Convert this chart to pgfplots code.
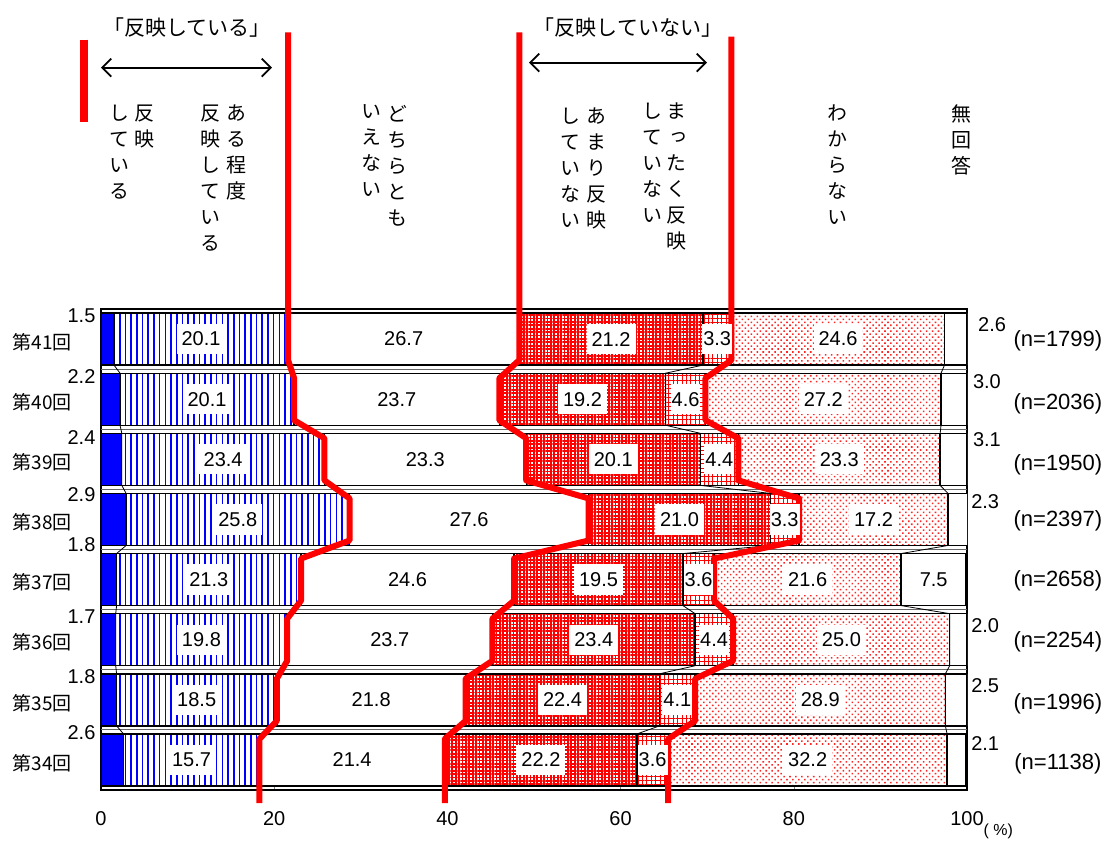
\documentclass[border=0pt]{standalone}
\usepackage{fontspec}
\setmainfont{Liberation Sans}
\newfontfamily\cjk{Noto Sans CJK JP}
\newfontfamily\cjkv[RawFeature=+vert]{Noto Sans CJK JP}
\usepackage{pgfplots}
\pgfplotsset{compat=1.18}
\usepackage{pgfplotstable}
\usetikzlibrary{patterns.meta,arrows.meta}

% shares per survey round (y=1 is 34th, y=8 is 41st)
\pgfplotstableread{
y s1 s2 s3 s4 s5 s6 s7
1 2.6 15.7 21.4 22.2 3.6 32.2 2.1
2 1.8 18.5 21.8 22.4 4.1 28.9 2.5
3 1.7 19.8 23.7 23.4 4.4 25.0 2.0
4 1.8 21.3 24.6 19.5 3.6 21.6 7.5
5 2.9 25.8 27.6 21.0 3.3 17.2 2.3
6 2.4 23.4 23.3 20.1 4.4 23.3 3.1
7 2.2 20.1 23.7 19.2 4.6 27.2 3.0
8 1.5 20.1 26.7 21.2 3.3 24.6 2.6
}\shares

% labels in the middle of the segments
\pgfplotstableread{
x y lab
11.55 8 20.1
34.95 8 26.7
58.9 8 21.2
85.1 8 24.6
12.25 7 20.1
34.15 7 23.7
55.6 7 19.2
83.4 7 27.2
14.1 6 23.4
37.45 6 23.3
59.15 6 20.1
85.25 6 23.3
15.8 5 25.8
42.5 5 27.6
66.8 5 21.0
89.2 5 17.2
12.45 4 21.3
35.4 4 24.6
57.45 4 19.5
81.6 4 21.6
11.6 3 19.8
33.35 3 23.7
56.9 3 23.4
85.5 3 25.0
11.05 2 18.5
31.2 2 21.8
53.3 2 22.4
83.05 2 28.9
10.45 1 15.7
29.0 1 21.4
50.8 1 22.2
81.6 1 32.2
}\midlabels

\pgfplotstableread{
x y lab
71.15 8 3.3
67.5 7 4.6
71.4 6 4.4
78.95 5 3.3
69.0 4 3.6
70.8 3 4.4
66.55 2 4.1
63.7 1 3.6
}\smalllabels

\pgfplotstableread{
x y lab
-0.6 8.388 1.5
-0.6 7.373 2.2
-0.6 6.358 2.4
-0.6 5.409 2.9
-0.6 4.577 1.8
-0.6 3.379 1.7
-0.6 2.381 1.8
-0.6 1.449 2.6
}\leftlabels

\pgfplotstableread{
x y lab
102.9 8.238 2.6
102.3 7.290 3.0
102.3 6.324 3.1
102.1 5.293 2.3
96.15 4 7.5
102.1 3.230 2.0
102.1 2.231 2.5
102.1 1.266 2.1
}\rightlabels

\pgfplotstableread{
x y lab
110.5 7.972 (n=1799)
110.5 6.923 (n=2036)
110.5 5.908 (n=1950)
110.5 4.977 (n=2397)
110.5 3.978 (n=2658)
110.5 2.963 (n=2254)
110.5 1.932 (n=1996)
110.5 0.933 (n=1138)
}\nlabels

\pgfplotsset{
  lbl/.style={only marks, mark=none, nodes near coords, point meta=explicit symbolic,
    every node near coord/.append style={anchor=center, font=\fontsize{10}{12}\selectfont, text=black}},
  seg/.style={draw=black, line width=0.7pt},
  redline/.style={red, line width=3pt, line join=round, mark=none},
  sline/.style={black, line width=0.4pt, mark=none},
}

\begin{document}
\begin{tikzpicture}
\useasboundingbox (-50.5pt,-26pt) rectangle (503pt,395pt);
\begin{axis}[
  at={(0,0)}, anchor=south west,
  width=433pt, height=240.5pt, scale only axis,
  xbar stacked, bar width=0.865,
  xmin=0, xmax=100, ymin=0.5, ymax=8.5,
  xtick={0,20,...,100}, xtick pos=left, xtick align=inside,
  major tick length=2pt,
  ytick={1,...,8},
  yticklabels={第34回,第35回,第36回,第37回,第38回,第39回,第40回,第41回},
  ytick style={draw=none},
  extra y ticks={1.5,2.5,...,7.5}, extra y tick labels={},
  extra y tick style={grid=major, major tick length=0pt},
  major grid style={black!60, line width=0.4pt},
  axis line style={black, line width=0.6pt},
  /pgf/number format/assume math mode=true,
  xticklabel style={font=\fontsize{10}{12}\selectfont, yshift=-7pt},
  yticklabel style={font=\cjk\fontsize{9.5}{11}\selectfont, xshift=-11pt, yshift=-1.5pt},
]
\addplot[seg, fill=blue] table[x=s1,y=y]{\shares};
\addplot[seg, pattern={Lines[angle=90,distance=2.85pt,line width=0.8pt]}, pattern color=blue] table[x=s2,y=y]{\shares};
\addplot[seg, fill=white] table[x=s3,y=y]{\shares};
\addplot[seg, pattern={Hatch[distance=1.7pt,line width=0.9pt]}, pattern color=red] table[x=s4,y=y]{\shares};
\addplot[seg, pattern={Hatch[distance=2.2pt,line width=0.5pt]}, pattern color=red] table[x=s5,y=y]{\shares};
\addplot[seg, pattern={Dots[distance=2.1pt,angle=45,radius=0.55pt]}, pattern color=red!85] table[x=s6,y=y]{\shares};
\addplot[seg, fill=white] table[x=s7,y=y]{\shares};
\end{axis}

\begin{axis}[
  at={(0,0)}, anchor=south west,
  width=433pt, height=240.5pt, scale only axis,
  xmin=0, xmax=100, ymin=0.5, ymax=8.5,
  hide axis, clip=false,
]
% series lines between the bars
\addplot[sline] coordinates {(1.5,7.567)(2.2,7.433)(2.2,6.567)(2.4,6.433)(2.4,5.567)(2.9,5.433)(2.9,4.567)(1.8,4.433)(1.8,3.567)(1.7,3.433)(1.7,2.567)(1.8,2.433)(1.8,1.567)(2.6,1.433)};
\addplot[sline] coordinates {(69.5,7.567)(65.2,7.433)(65.2,6.567)(69.2,6.433)(69.2,5.567)(77.3,5.433)(77.3,4.567)(67.2,4.433)(67.2,3.567)(68.6,3.433)(68.6,2.567)(64.5,2.433)(64.5,1.567)(61.9,1.433)};
\addplot[sline] coordinates {(97.4,7.567)(97.0,7.433)(97.0,6.567)(96.9,6.433)(96.9,5.567)(97.8,5.433)(97.8,4.567)(92.4,4.433)(92.4,3.567)(98.0,3.433)(98.0,2.567)(97.5,2.433)(97.5,1.567)(97.7,1.433)};

% value labels
\addplot[lbl, every node near coord/.append style={fill=white, inner xsep=2.5pt, inner ysep=4pt}] table[x=x,y=y,meta=lab]{\midlabels};
\addplot[lbl, every node near coord/.append style={fill=white, inner xsep=0.5pt, inner ysep=4pt}] table[x=x,y=y,meta=lab]{\smalllabels};
\addplot[lbl, every node near coord/.append style={anchor=east, inner sep=0pt}] table[x=x,y=y,meta=lab]{\leftlabels};
\addplot[lbl] table[x=x,y=y,meta=lab]{\rightlabels};
\addplot[lbl, every node near coord/.append style={font=\fontsize{11}{13}\selectfont}] table[x=x,y=y,meta=lab]{\nlabels};

% red boundary lines
\addplot[redline] coordinates {(21.6,13.1)(21.6,7.65)(22.3,7.35)(22.3,6.65)(25.8,6.35)(25.8,5.65)(28.7,5.35)(28.7,4.65)(23.1,4.35)(23.1,3.65)(21.5,3.35)(21.5,2.65)(20.3,2.35)(20.3,1.65)(18.3,1.35)(18.3,0.28)};
\addplot[redline] coordinates {(48.3,13.1)(48.3,7.65)(46.0,7.35)(46.0,6.65)(49.1,6.35)(49.1,5.65)(56.3,5.35)(56.3,4.65)(47.7,4.35)(47.7,3.65)(45.2,3.35)(45.2,2.65)(42.1,2.35)(42.1,1.65)(39.7,1.35)(39.7,0.28)};
\addplot[redline] coordinates {(72.8,13.03)(72.8,7.65)(69.8,7.35)(69.8,6.65)(73.6,6.35)(73.6,5.65)(80.6,5.35)(80.6,4.65)(70.8,4.35)(70.8,3.65)(73.0,3.35)(73.0,2.65)(68.6,2.35)(68.6,1.65)(65.5,1.35)(65.5,0.28)};

% headers
\draw[red, line width=4pt] (axis cs:-1.96,12.98) -- (axis cs:-1.96,11.615);
\node[font=\cjk\fontsize{10.5}{12}\selectfont] at (axis cs:9.93,13.18) {「反映している」};
\node[font=\cjk\fontsize{10.5}{12}\selectfont] at (axis cs:60.85,13.18) {「反映していない」};
\draw[{Straight Barb[length=4.5pt,width=9pt]}-{Straight Barb[length=4.5pt,width=9pt]}, line width=0.9pt] (axis cs:0,12.514) -- (axis cs:19.75,12.514);
\draw[{Straight Barb[length=4.5pt,width=9pt]}-{Straight Barb[length=4.5pt,width=9pt]}, line width=0.9pt] (axis cs:49.42,12.597) -- (axis cs:69.98,12.597);

\tikzset{vh/.style={font=\cjkv\fontsize{10}{13}\selectfont, align=center, inner sep=0pt, anchor=north}}
\node[vh] at (axis cs:5.08,11.899) {反\\映};
\node[vh] at (axis cs:2.08,11.899) {し\\て\\い\\る};
\node[vh] at (axis cs:15.59,11.899) {あ\\る\\程\\度};
\node[vh] at (axis cs:12.59,11.899) {反\\映\\し\\て\\い\\る};
\node[vh] at (axis cs:34.18,11.899) {ど\\ち\\ら\\と\\も};
\node[vh] at (axis cs:31.29,11.899) {い\\え\\な\\い};
\node[vh] at (axis cs:57.27,11.85) {あ\\ま\\り\\反\\映};
\node[vh] at (axis cs:54.27,11.85) {し\\て\\い\\な\\い};
\node[vh] at (axis cs:66.51,11.93) {ま\\っ\\た\\く\\反\\映};
\node[vh] at (axis cs:63.63,11.93) {し\\て\\い\\な\\い};
\node[vh] at (axis cs:84.99,11.899) {わ\\か\\ら\\な\\い};
\node[vh] at (axis cs:99.31,11.899) {無\\回\\答};

\node[font=\fontsize{8}{10}\selectfont] at (axis cs:103.6,-0.181) {( \%)};
\end{axis}
\end{tikzpicture}
\end{document}
